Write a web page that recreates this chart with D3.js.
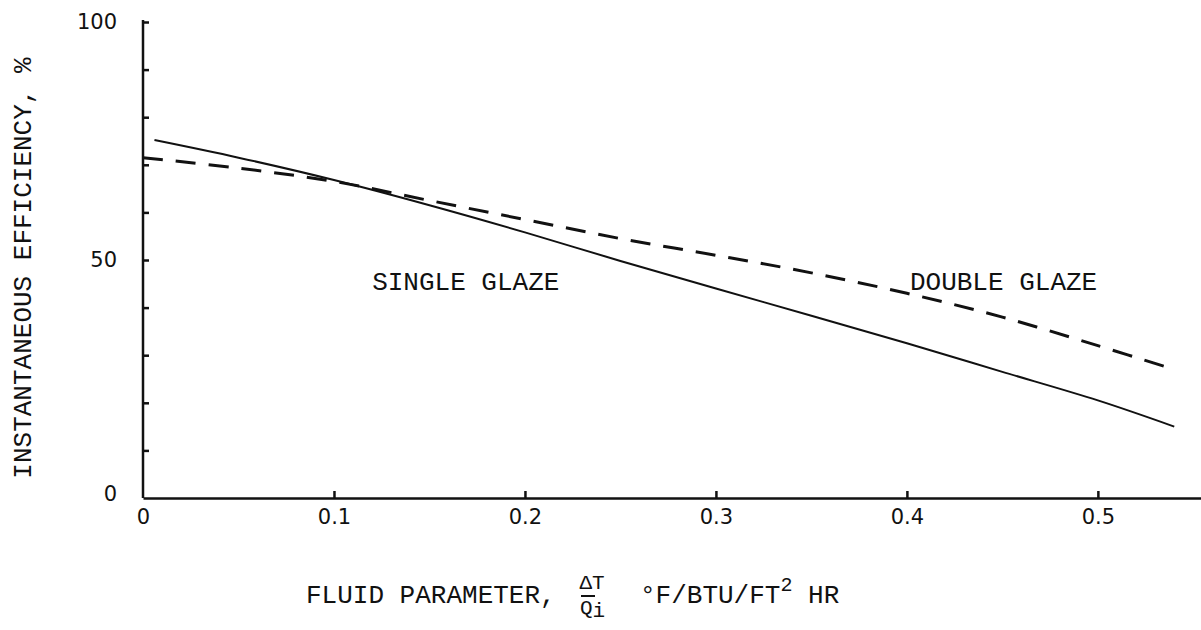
<!DOCTYPE html>
<html>
<head>
<meta charset="utf-8">
<script src="https://cdn.jsdelivr.net/npm/d3@7"></script>
<style>
  body { margin: 0; background: #fff; }
  text { fill: #111; }
</style>
</head>
<body>
<svg id="chart" width="1201" height="630"></svg>
<script>
// fluid parameter (x) and efficiency (%)
var singleX = [0.006, 0.05, 0.1, 0.15, 0.2, 0.25, 0.3, 0.35, 0.4, 0.45, 0.5, 0.54]
var singleY = [75.2, 71.5, 66.8, 61.5, 55.8, 49.8, 44.0, 38.3, 32.5, 26.5, 20.5, 15.0]
var doubleX = [0, 0.05, 0.1, 0.15, 0.2, 0.25, 0.3, 0.35, 0.4, 0.45, 0.5, 0.54]
var doubleY = [71.5, 69.3, 66.5, 62.5, 58.5, 54.5, 51.0, 47.3, 43.0, 38.0, 32.0, 27.0]

var xTicks = [0, 0.1, 0.2, 0.3, 0.4, 0.5]
var xTickLabels = ["0", "0.1", "0.2", "0.3", "0.4", "0.5"]
var yTicks = [0, 10, 20, 30, 40, 50, 60, 70, 80, 90, 100]
var yLabelled = [0, 50, 100]

var labels = [
  {text: "SINGLE GLAZE", x: 0.12, y: 43.8},
  {text: "DOUBLE GLAZE", x: 0.4016, y: 43.8}
]

var svg = d3.select("#chart")
var mono = "'Liberation Mono', 'DejaVu Sans Mono', monospace"

var x = d3.scaleLinear().domain([0, 0.554]).range([143, 1201])
var y = d3.scaleLinear().domain([0, 100]).range([498, 22])

// y axis: ticks point inward, only 0/50/100 labelled
var yAxis = d3.axisLeft(y)
  .tickValues(yTicks)
  .tickSizeInner(-6)
  .tickSizeOuter(0)
  .tickPadding(26)
  .tickFormat(function(d) { return yLabelled.indexOf(d) > -1 ? d : "" })

var gy = svg.append("g").attr("transform", "translate(143,0)").call(yAxis)
gy.select(".domain").attr("d", "M0," + (y(100) - 2) + "V" + y(0))
gy.selectAll("line").filter(function(d) { return d === 0 }).remove()
gy.selectAll("text").filter(function(d) { return d === 0 }).attr("dy", "0.1em")

// x axis
var xAxis = d3.axisBottom(x)
  .tickValues(xTicks)
  .tickSizeInner(-7)
  .tickSizeOuter(0)
  .tickPadding(11)
  .tickFormat(function(d, i) { return xTickLabels[i] })

var gx = svg.append("g").attr("transform", "translate(0,498)").call(xAxis)
gx.selectAll("line").filter(function(d) { return d === 0 }).remove()

svg.selectAll(".domain").attr("stroke", "#111").attr("stroke-width", 2.5)
svg.selectAll(".tick line").attr("stroke", "#111").attr("stroke-width", 2.5)
svg.selectAll(".tick text")
  .attr("font-family", "'DejaVu Sans', sans-serif")
  .attr("font-size", 21)
  .attr("fill", "#111")

// curves
var line = d3.line()
  .x(function(d) { return x(d[0]) })
  .y(function(d) { return y(d[1]) })
  .curve(d3.curveCatmullRom)

svg.append("path")
  .datum(d3.zip(singleX, singleY))
  .attr("d", line)
  .attr("fill", "none")
  .attr("stroke", "#111")
  .attr("stroke-width", 2)

svg.append("path")
  .datum(d3.zip(doubleX, doubleY))
  .attr("d", line)
  .attr("fill", "none")
  .attr("stroke", "#111")
  .attr("stroke-width", 3)
  .attr("stroke-dasharray", "20,13")

svg.selectAll(".curve-label")
  .data(labels)
  .enter().append("text")
  .attr("class", "curve-label")
  .attr("x", function(d) { return x(d.x) })
  .attr("y", function(d) { return y(d.y) })
  .attr("font-family", mono)
  .attr("font-size", 26)
  .text(function(d) { return d.text })

// axis titles
svg.append("text")
  .attr("transform", "translate(24,268) rotate(-90)")
  .attr("text-anchor", "middle")
  .attr("dominant-baseline", "central")
  .attr("font-family", mono)
  .attr("font-size", 26)
  .text("INSTANTANEOUS EFFICIENCY, %")

var title = svg.append("g").attr("font-family", mono).attr("font-size", 26)
title.append("text").attr("x", 306).attr("y", 603).text("FLUID PARAMETER,")
title.append("text").attr("x", 592).attr("y", 589).attr("text-anchor", "middle")
  .attr("font-size", 21).text("ΔT")
title.append("line").attr("x1", 581).attr("x2", 595).attr("y1", 596).attr("y2", 596)
  .attr("stroke", "#111").attr("stroke-width", 2)
var q = title.append("text").attr("x", 580).attr("y", 614).attr("font-size", 21)
q.append("tspan").text("Q")
q.append("tspan").attr("dy", 3).text("i")
var unit = title.append("text").attr("x", 640).attr("y", 603)
unit.append("tspan").text("°F/BTU/FT")
unit.append("tspan").attr("dy", -12).attr("font-size", 20).text("2")
unit.append("tspan").attr("dy", 12).text(" HR")
</script>
</body>
</html>
